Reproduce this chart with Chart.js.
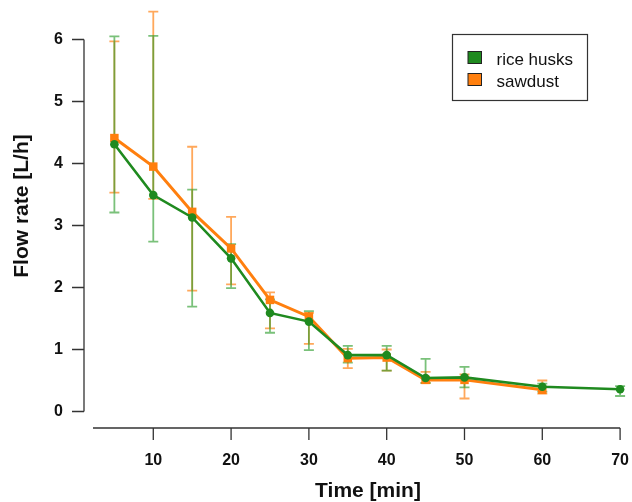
<!DOCTYPE html>
<html>
<head>
<meta charset="utf-8">
<script src="https://cdn.jsdelivr.net/npm/chart.js@4.4.1/dist/chart.umd.min.js"></script>
<style>
  html, body { margin: 0; padding: 0; background: #ffffff; }
  #wrap { width: 632px; height: 502px; }
</style>
</head>
<body>
<div id="wrap"><canvas id="c" width="632" height="502"></canvas></div>
<script>
// ---- data ----
const riceTimes = [5, 10, 15, 20, 25, 30, 35, 40, 45, 50, 60, 70];
const riceFlow  = [4.31, 3.49, 3.13, 2.47, 1.59, 1.45, 0.91, 0.91, 0.54, 0.55, 0.40, 0.36];
const riceHigh  = [6.05, 6.06, 3.58, 2.70, 1.81, 1.62, 1.06, 1.06, 0.85, 0.72, 0.45, 0.41];
const riceLow   = [3.21, 2.74, 1.69, 1.99, 1.27, 0.99, 0.79, 0.66, 0.46, 0.39, 0.32, 0.25];

const sawTimes = [5, 10, 15, 20, 25, 30, 35, 40, 45, 50, 60];
const sawFlow  = [4.41, 3.95, 3.22, 2.63, 1.80, 1.53, 0.86, 0.87, 0.51, 0.51, 0.35];
const sawHigh  = [5.97, 6.45, 4.27, 3.14, 1.92, 1.59, 1.01, 1.00, 0.64, 0.60, 0.50];
const sawLow   = [3.53, 3.43, 1.95, 2.05, 1.34, 1.09, 0.70, 0.66, 0.46, 0.21, 0.29];

const xTicks = [10, 20, 30, 40, 50, 60, 70];
const yTicks = [0, 1, 2, 3, 4, 5, 6];
const seriesNames = ['rice husks', 'sawdust'];
const xTitle = 'Time [min]';
const yTitle = 'Flow rate [L/h]';

const GREEN = '#1f8a1f';
const ORANGE = '#ff7f0e';
const GREEN_BAR = 'rgba(40,155,40,0.62)';
const ORANGE_BAR = 'rgba(255,127,14,0.68)';
const AXIS = '#333333';
const FONT = '"Liberation Sans", Arial, Helvetica, sans-serif';

const toXY = (xs, ys) => xs.map((x, i) => ({ x: x, y: ys[i] }));

const errorBars = {
  id: 'errorBars',
  beforeDatasetsDraw(chart) {
    const ctx = chart.ctx;
    const xs = chart.scales.x, ys = chart.scales.y;
    const draw = (times, lo, hi, color) => {
      ctx.save();
      ctx.strokeStyle = color;
      ctx.lineWidth = 1.8;
      times.forEach((t, i) => {
        const px = xs.getPixelForValue(t);
        const pl = ys.getPixelForValue(lo[i]);
        const ph = ys.getPixelForValue(hi[i]);
        ctx.beginPath();
        ctx.moveTo(px, pl); ctx.lineTo(px, ph);
        ctx.moveTo(px - 5, pl); ctx.lineTo(px + 5, pl);
        ctx.moveTo(px - 5, ph); ctx.lineTo(px + 5, ph);
        ctx.stroke();
      });
      ctx.restore();
    };
    draw(sawTimes, sawLow, sawHigh, ORANGE_BAR);
    draw(riceTimes, riceLow, riceHigh, GREEN_BAR);
  }
};

const rAxes = {
  id: 'rAxes',
  afterDraw(chart) {
    const ctx = chart.ctx;
    const xs = chart.scales.x, ys = chart.scales.y;
    const ca = chart.chartArea;
    ctx.save();
    ctx.strokeStyle = AXIS;
    ctx.lineWidth = 1.3;
    // y axis
    const yAxisX = ca.left - 10;
    ctx.beginPath();
    ctx.moveTo(yAxisX, ys.getPixelForValue(yTicks[0]));
    ctx.lineTo(yAxisX, ys.getPixelForValue(yTicks[yTicks.length - 1]));
    yTicks.forEach(v => {
      const py = ys.getPixelForValue(v);
      ctx.moveTo(yAxisX, py); ctx.lineTo(yAxisX - 12, py);
    });
    ctx.stroke();
    // x axis
    const xAxisY = ca.bottom;
    ctx.beginPath();
    ctx.moveTo(ca.left - 1, xAxisY);
    ctx.lineTo(xs.getPixelForValue(xTicks[xTicks.length - 1]), xAxisY);
    xTicks.forEach(v => {
      const px = xs.getPixelForValue(v);
      ctx.moveTo(px, xAxisY); ctx.lineTo(px, xAxisY + 12);
    });
    ctx.stroke();

    // tick labels
    ctx.fillStyle = '#111111';
    ctx.font = 'bold 16px ' + FONT;
    ctx.textAlign = 'right';
    ctx.textBaseline = 'middle';
    yTicks.forEach(v => ctx.fillText(String(v), yAxisX - 21, ys.getPixelForValue(v) + 0.5));
    ctx.textAlign = 'center';
    xTicks.forEach(v => ctx.fillText(String(v), xs.getPixelForValue(v), xAxisY + 33));

    // titles
    ctx.font = 'bold 21px ' + FONT;
    ctx.textBaseline = 'alphabetic';
    ctx.fillText(xTitle, 368, 496.5);
    ctx.save();
    ctx.translate(28, 206);
    ctx.rotate(-Math.PI / 2);
    ctx.fillText(yTitle, 0, 0);
    ctx.restore();

    // legend
    ctx.strokeStyle = '#333333';
    ctx.lineWidth = 1.2;
    ctx.strokeRect(452.5, 34.5, 135, 66);
    const swatches = [GREEN, ORANGE];
    const rowY = [51.5, 73.5];
    const baseY = [65, 86.5];
    ctx.font = '17px ' + FONT;
    ctx.textAlign = 'left';
    seriesNames.forEach((name, i) => {
      ctx.fillStyle = swatches[i];
      ctx.fillRect(468, rowY[i], 13.5, 12);
      ctx.strokeStyle = '#222222';
      ctx.lineWidth = 1;
      ctx.strokeRect(468, rowY[i], 13.5, 12);
      ctx.fillStyle = '#111111';
      ctx.fillText(name, 496.5, baseY[i]);
    });
    ctx.restore();
  }
};

new Chart(document.getElementById('c'), {
  type: 'line',
  data: {
    datasets: [
      {
        label: seriesNames[0],
        data: toXY(riceTimes, riceFlow),
        borderColor: GREEN,
        backgroundColor: GREEN,
        borderWidth: 2.6,
        pointStyle: 'circle',
        pointRadius: 4.3,
        pointBorderWidth: 0,
        tension: 0,
        clip: false
      },
      {
        label: seriesNames[1],
        data: toXY(sawTimes, sawFlow),
        borderColor: ORANGE,
        backgroundColor: ORANGE,
        borderWidth: 3,
        pointStyle: 'rect',
        pointRadius: 6,
        pointBorderWidth: 0,
        tension: 0,
        clip: false
      }
    ]
  },
  options: {
    responsive: false,
    animation: false,
    devicePixelRatio: 1,
    layout: { autoPadding: false, padding: { left: 94, right: 0, top: 0, bottom: 74 } },
    plugins: { legend: { display: false }, tooltip: { enabled: false } },
    scales: {
      x: { type: 'linear', min: 2.38, max: 71.53, display: false },
      y: { type: 'linear', min: -0.266, max: 6.637, display: false }
    }
  },
  plugins: [errorBars, rAxes]
});
</script>
</body>
</html>
